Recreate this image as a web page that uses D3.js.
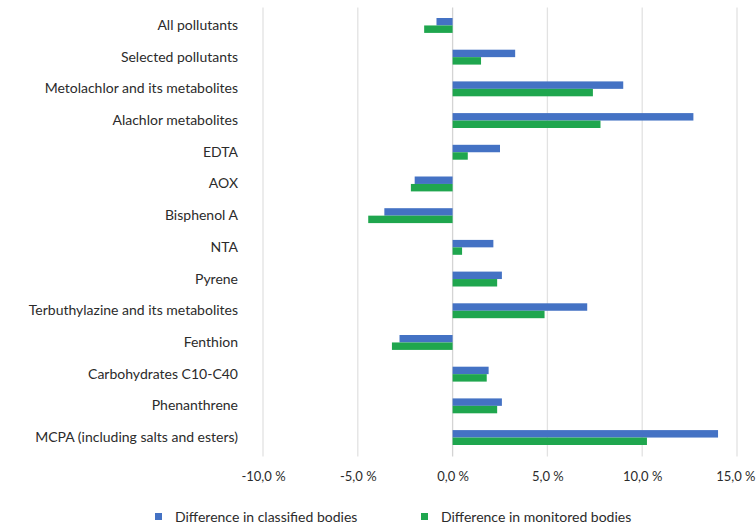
<!DOCTYPE html>
<html>
<head>
<meta charset="utf-8">
<script src="https://cdn.jsdelivr.net/npm/d3@7/dist/d3.min.js"></script>
<style>
  html, body { margin: 0; padding: 0; background: #fff; }
  svg { display: block; }
  text { font-family: Lato, "Open Sans", sans-serif; fill: #2b2b2b; }
</style>
</head>
<body>
<svg id="chart" width="756" height="525"></svg>
<script>
const categories = [
  "All pollutants",
  "Selected pollutants",
  "Metolachlor and its metabolites",
  "Alachlor metabolites",
  "EDTA",
  "AOX",
  "Bisphenol A",
  "NTA",
  "Pyrene",
  "Terbuthylazine and its metabolites",
  "Fenthion",
  "Carbohydrates C10-C40",
  "Phenanthrene",
  "MCPA (including salts and esters)"
];
const classified = [-0.85, 3.3, 9.0, 12.7, 2.5, -2.0, -3.6, 2.15, 2.6, 7.1, -2.8, 1.9, 2.6, 14.0];
const monitored  = [-1.5, 1.5, 7.4, 7.8, 0.8, -2.2, -4.45, 0.5, 2.35, 4.85, -3.2, 1.8, 2.35, 10.25];
const seriesNames = ["Difference in classified bodies", "Difference in monitored bodies"];
const seriesColors = ["#4472C4", "#1FA64E"];
const tickValues = [-10, -5, 0, 5, 10, 15];

const svg = d3.select("#chart");
const margin = { left: 263, right: 19, top: 9.6, bottom: 71.6 };
const W = 756, H = 525;
const FS = "14px";

const x = d3.scaleLinear().domain([-10, 15]).range([margin.left, W - margin.right]);
const y = d3.scaleBand().domain(categories).range([margin.top, H - margin.bottom]).paddingInner(0.53).paddingOuter(0.265);

// gridlines
svg.append("g").selectAll("line").data(tickValues).join("line")
  .attr("x1", d => x(d)).attr("x2", d => x(d))
  .attr("y1", margin.top - 2).attr("y2", H - margin.bottom + 3)
  .attr("stroke", d => d === 0 ? "#d4d4d4" : "#e2e2e2").attr("stroke-width", 1.3);

const bh = y.bandwidth() / 2;
const series = [classified, monitored];
series.forEach((vals, si) => {
  svg.append("g").selectAll("rect").data(vals).join("rect")
    .attr("x", d => Math.min(x(0), x(d)))
    .attr("width", d => Math.abs(x(d) - x(0)))
    .attr("y", (d, i) => y(categories[i]) + si * bh)
    .attr("height", bh)
    .attr("fill", seriesColors[si]);
});

// category labels
const yAxis = d3.axisLeft(y).tickSize(0).tickPadding(0);
const gy = svg.append("g").attr("transform", `translate(${margin.left - 25},0)`).call(yAxis);
gy.select(".domain").remove();
gy.selectAll("text").style("font-size", FS).style("font-family", "Lato, 'Open Sans', sans-serif").attr("fill", "#2b2b2b");

// x axis labels
const fmt = d => d3.format(".1f")(d).replace(".", ",").replace("−", "-") + " %";
const xAxis = d3.axisBottom(x).tickValues(tickValues).tickSize(0).tickPadding(0).tickFormat(fmt);
const gx = svg.append("g").attr("transform", `translate(0,${H - margin.bottom + 18})`).call(xAxis);
gx.select(".domain").remove();
gx.selectAll("text").style("font-size", "13px").style("font-family", "Lato, 'Open Sans', sans-serif").attr("fill", "#2b2b2b");
// keep the last label inside the picture
gx.selectAll(".tick").each(function(d) {
  const t = d3.select(this).select("text");
  const b = t.node().getBBox();
  const right = x(d) + b.x + b.width;
  if (right > W - 1) t.attr("dx", (W - 1 - right) + "px");
});

// legend
const legendX = [155, 421];
const lg = svg.append("g");
seriesNames.forEach((n, i) => {
  lg.append("rect").attr("x", legendX[i]).attr("y", 513).attr("width", 7).attr("height", 7).attr("fill", seriesColors[i]);
  lg.append("text").attr("x", legendX[i] + 20).attr("y", 522).text(n).style("font-size", FS);
});
</script>
</body>
</html>
